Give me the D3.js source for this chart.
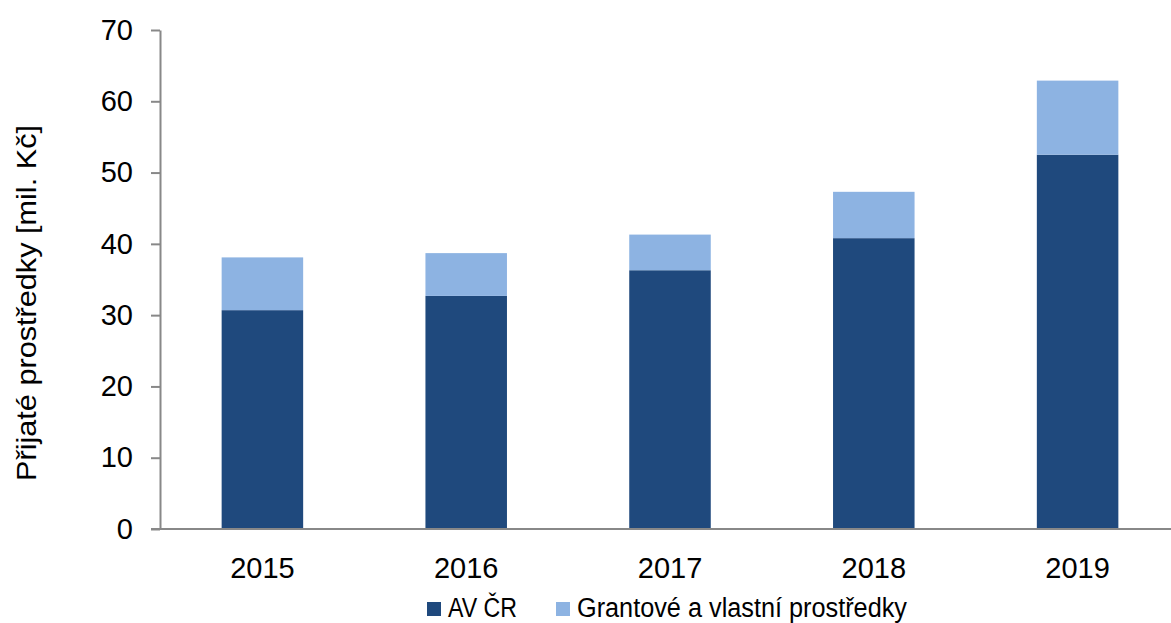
<!DOCTYPE html>
<html><head><meta charset="utf-8">
<script src="https://cdn.jsdelivr.net/npm/d3@7"></script>
<style>body{margin:0;background:#fff;} svg{display:block;font-family:"Liberation Sans",Arial,sans-serif;}</style>
</head><body>
<svg id="c" width="1171" height="623"></svg>
<script>
const years = ["2015","2016","2017","2018","2019"];
const avcr = [30.7, 32.7, 36.3, 40.8, 52.5];
const granty = [7.4, 6.0, 5.0, 6.5, 10.4];
const seriesNames = ["AV ČR", "Grantové a vlastní prostředky"];
const colors = ["#1f497d", "#8db3e2"];
const yTicks = [0,10,20,30,40,50,60,70];
const yLabel = "Přijaté prostředky [mil. Kč]";

const svg = d3.select("#c");
const x = d3.scaleBand().domain(years).range([160.5, 1179.5]).paddingInner(0.6).paddingOuter(0.3);
const y = d3.scaleLinear().domain([0,70]).range([529,30]);

const rows = years.map((yr,i)=>({year:yr, a:avcr[i], g:granty[i]}));
const stack = d3.stack().keys(["a","g"])(rows);

svg.append("g").selectAll("g").data(stack).join("g")
  .attr("fill",(d,i)=>colors[i])
  .selectAll("rect").data(d=>d).join("rect")
  .attr("x",d=>x(d.data.year)).attr("width",x.bandwidth())
  .attr("y",d=>y(d[1])).attr("height",d=>y(d[0])-y(d[1]));

const FONT = "Liberation Sans, Arial, sans-serif";

// y axis
const ya = svg.append("g").attr("transform","translate(160,0)")
  .call(d3.axisLeft(y).tickValues(yTicks).tickSize(9).tickPadding(18).tickSizeOuter(0));
ya.select(".domain").attr("stroke","#888").attr("stroke-width",2);
ya.selectAll(".tick line").attr("stroke","#888").attr("stroke-width",2);
ya.selectAll(".tick text").attr("font-size",29).attr("fill","#000").attr("font-family",FONT);

// x axis
const xa = svg.append("g").attr("transform","translate(0,529)")
  .call(d3.axisBottom(x).tickSize(0).tickPadding(28));
xa.select(".domain").remove();
svg.append("line").attr("x1",151).attr("x2",1171).attr("y1",529).attr("y2",529)
  .attr("stroke","#888").attr("stroke-width",2);
xa.selectAll(".tick text").attr("font-size",29).attr("fill","#000").attr("font-family",FONT);

// y label
svg.append("text").attr("transform","translate(36,303) rotate(-90)")
  .attr("text-anchor","middle").attr("font-size",28).attr("fill","#000")
  .attr("textLength",356).attr("lengthAdjust","spacingAndGlyphs").text(yLabel);

// legend
const legX = [427, 556];
const legW = [69, 330];
const lg = svg.append("g");
seriesNames.forEach((n,i)=>{
  lg.append("rect").attr("x",legX[i]).attr("y",602).attr("width",14).attr("height",14).attr("fill",colors[i]);
  lg.append("text").attr("x",legX[i]+21).attr("y",617).attr("font-size",27).attr("fill","#000")
    .attr("textLength",legW[i]).attr("lengthAdjust","spacingAndGlyphs").text(n);
});
</script>
</body></html>
